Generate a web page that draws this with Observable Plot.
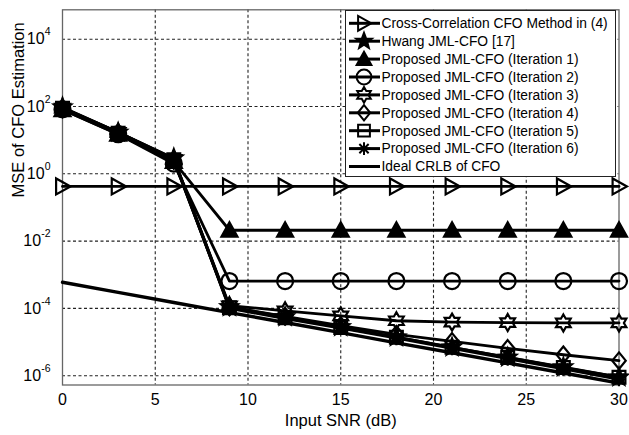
<!DOCTYPE html>
<html>
<head>
<meta charset="utf-8">
<script src="https://cdn.jsdelivr.net/npm/d3@7"></script>
<script src="https://cdn.jsdelivr.net/npm/@observablehq/plot@0.6"></script>
<style>
  html, body { margin: 0; padding: 0; background: #fff; }
  #wrap { position: relative; width: 629px; height: 435px; font-family: "Liberation Sans", Arial, Helvetica, sans-serif; }
  #legend { position: absolute; left: 345px; top: 10px; }
</style>
</head>
<body>
<div id="wrap"></div>
<script>
// ---- data ----
const snr = [0, 3, 6, 9, 12, 15, 18, 21, 24, 27, 30];
const xTicks = [0, 5, 10, 15, 20, 25, 30];
const yTicks = [1e-6, 1e-4, 1e-2, 1e0, 1e2, 1e4];
const xLabel = "Input SNR (dB)";
const yLabel = "MSE of CFO Estimation";

const seriesNames = [
  "Cross-Correlation CFO Method in (4)",
  "Hwang JML-CFO [17]",
  "Proposed JML-CFO (Iteration 1)",
  "Proposed JML-CFO (Iteration 2)",
  "Proposed JML-CFO (Iteration 3)",
  "Proposed JML-CFO (Iteration 4)",
  "Proposed JML-CFO (Iteration 5)",
  "Proposed JML-CFO (Iteration 6)",
  "Ideal CRLB of CFO"
];
const crossCorr = [0.42, 0.42, 0.42, 0.42, 0.42, 0.42, 0.42, 0.42, 0.42, 0.42, 0.42];
const hwang = [95, 17, 2.9, 1.1e-4, 5.6e-5, 2.8e-5, 1.4e-5, 7e-6, 3.5e-6, 1.8e-6, 9e-7];
const iter1 = [80, 15, 2.3, 0.021, 0.021, 0.021, 0.021, 0.021, 0.021, 0.021, 0.021];
const iter2 = [82, 15, 2.0, 6.5e-4, 6.5e-4, 6.5e-4, 6.5e-4, 6.5e-4, 6.5e-4, 6.5e-4, 6.5e-4];
const iter3 = [90, 17, 2.7, 1.2e-4, 8.5e-5, 6e-5, 4.3e-5, 3.9e-5, 3.8e-5, 3.7e-5, 3.7e-5];
const iter4 = [85, 16, 2.5, 1.1e-4, 5.8e-5, 3.1e-5, 1.7e-5, 1.05e-5, 6.5e-6, 4.2e-6, 2.8e-6];
const iter5 = [88, 16, 2.6, 1.05e-4, 5.3e-5, 2.7e-5, 1.4e-5, 7e-6, 3.5e-6, 1.75e-6, 9e-7];
const iter6 = [92, 17, 2.8, 1e-4, 5e-5, 2.6e-5, 1.3e-5, 6.5e-6, 3.2e-6, 1.6e-6, 7.8e-7];
const crlb = [6e-4, 3e-4, 1.5e-4, 7.5e-5, 3.8e-5, 1.9e-5, 9.5e-6, 4.8e-6, 2.4e-6, 1.2e-6, 6e-7];

// ---- marker shapes (MATLAB-like) ----
const sym = fn => ({ draw(c, size) { fn(c, Math.sqrt(size / Math.PI)); } });
const triRight = sym((c, r) => { c.moveTo(r, 0); c.lineTo(-0.8 * r, -r); c.lineTo(-0.8 * r, r); c.closePath(); });
const triUp = sym((c, r) => { c.moveTo(0, -r); c.lineTo(r, 0.8 * r); c.lineTo(-r, 0.8 * r); c.closePath(); });
const star = (n, inner) => sym((c, r) => {
  for (let i = 0; i < 2 * n; i++) {
    const a = -Math.PI / 2 + i * Math.PI / n, rr = i % 2 ? r * inner : r;
    const px = rr * Math.cos(a), py = rr * Math.sin(a);
    i ? c.lineTo(px, py) : c.moveTo(px, py);
  }
  c.closePath();
});
const pentagram = star(5, 0.42);
const hexagram = star(6, 0.577);
const diamond = sym((c, r) => { c.moveTo(0, -1.1 * r); c.lineTo(0.9 * r, 0); c.lineTo(0, 1.1 * r); c.lineTo(-0.9 * r, 0); c.closePath(); });
const square = sym((c, r) => { const s = 0.8 * r; c.moveTo(-s, -s); c.lineTo(s, -s); c.lineTo(s, s); c.lineTo(-s, s); c.closePath(); });
const asterisk = sym((c, r) => {
  const d = r * 0.72;
  c.moveTo(-r, 0); c.lineTo(r, 0); c.moveTo(0, -r); c.lineTo(0, r);
  c.moveTo(-d, -d); c.lineTo(d, d); c.moveTo(-d, d); c.lineTo(d, -d);
});
const circle = sym((c, r) => { c.moveTo(r, 0); c.arc(0, 0, r, 0, 2 * Math.PI); });

const series = [
  { name: seriesNames[0], values: crossCorr, symbol: triRight, fill: "none", r: 8 },
  { name: seriesNames[1], values: hwang, symbol: pentagram, fill: "black", r: 9 },
  { name: seriesNames[2], values: iter1, symbol: triUp, fill: "black", r: 8 },
  { name: seriesNames[3], values: iter2, symbol: circle, fill: "none", r: 8 },
  { name: seriesNames[4], values: iter3, symbol: hexagram, fill: "none", r: 8.5 },
  { name: seriesNames[5], values: iter4, symbol: diamond, fill: "none", r: 7.5 },
  { name: seriesNames[6], values: iter5, symbol: square, fill: "none", r: 8 },
  { name: seriesNames[7], values: iter6, symbol: asterisk, fill: "none", r: 7 },
  { name: seriesNames[8], values: crlb, symbol: null, fill: "none", r: 0 }
];
const rowsOf = s => snr.map((x, i) => ({ x, y: s.values[i], name: s.name }));

const marks = [
  Plot.gridX(xTicks.slice(1, -1), { stroke: "#222", strokeOpacity: 1, strokeWidth: 1.1, strokeDasharray: "3,2.5" }),
  Plot.gridY(yTicks, { stroke: "#222", strokeOpacity: 1, strokeWidth: 1.1, strokeDasharray: "3,2.5" }),
  Plot.frame({ stroke: "#666", strokeWidth: 1.3 }),
  Plot.axisX({ ticks: xTicks, tickSize: 0, tickPadding: 8.5, fontSize: 16, label: null }),
  Plot.axisY({ ticks: yTicks, tickSize: 0, tickPadding: 12, fontSize: 16, label: null,
    tickFormat: d => "10^" + Math.round(Math.log10(d)) }),
  Plot.text([xLabel], { frameAnchor: "bottom", dy: 29.5, lineAnchor: "top", fontSize: 16.5, fill: "black" }),
  Plot.text([yLabel], { frameAnchor: "left", rotate: -90, dx: -50, lineAnchor: "top", fontSize: 16.5, fill: "black" })
];
for (const s of series) {
  const rows = rowsOf(s);
  marks.push(Plot.line(rows, { x: "x", y: "y", stroke: "black", strokeWidth: s.symbol ? 2.8 : 3.4 }));
  if (s.symbol) {
    marks.push(Plot.dot(rows, { x: "x", y: "y", symbol: () => s.symbol, r: s.r, stroke: "black", strokeWidth: 2.2, fill: s.fill }));
  }
}

const chart = Plot.plot({
  width: 629, height: 435,
  marginLeft: 62, marginRight: 10.5, marginTop: 9.3, marginBottom: 50.5,
  style: { fontFamily: '"Liberation Sans", Arial, Helvetica, sans-serif', background: "white", color: "black" },
  x: { domain: [0, 30] },
  y: { type: "log", domain: [Math.pow(10, -6.276), Math.pow(10, 4.873)] },
  symbol: { type: "identity" },
  marks
});
document.getElementById("wrap").appendChild(chart);

// superscript exponents on y tick labels
const NS = "http://www.w3.org/2000/svg";
chart.querySelectorAll('g[aria-label="y-axis tick label"] text').forEach(t => {
  const [b, e] = t.textContent.split("^");
  t.textContent = "";
  const t1 = document.createElementNS(NS, "tspan"); t1.textContent = b;
  const t2 = document.createElementNS(NS, "tspan"); t2.textContent = e;
  t2.setAttribute("dy", "-9"); t2.setAttribute("font-size", "10.5");
  t.append(t1, t2);
});

// legend
const lw = 270, lh = 166, rowH = 17.9, row0 = 13.3;
const lg = d3.select("#wrap").append("svg").attr("id", "legend")
  .attr("width", lw + 1).attr("height", lh + 1)
  .style("font-family", '"Liberation Sans", Arial, Helvetica, sans-serif');
lg.append("rect").attr("x", 0.5).attr("y", 0.5).attr("width", lw).attr("height", lh)
  .attr("fill", "white").attr("stroke", "#222").attr("stroke-width", 1);
series.forEach((s, i) => {
  const y = row0 + i * rowH;
  const g = lg.append("g");
  g.append("line").attr("x1", 4).attr("x2", 35).attr("y1", y).attr("y2", y)
    .attr("stroke", "black").attr("stroke-width", 3);
  if (s.symbol) {
    g.append("path").attr("transform", `translate(19,${y})`)
      .attr("d", d3.symbol(s.symbol, Math.PI * s.r * s.r * 0.85)())
      .attr("fill", s.fill).attr("stroke", "black").attr("stroke-width", 2);
  }
  g.append("text").attr("x", 36.5).attr("y", y).attr("dy", "0.35em")
    .attr("font-size", 13.8).attr("fill", "black").text(s.name);
});
</script>
</body>
</html>
